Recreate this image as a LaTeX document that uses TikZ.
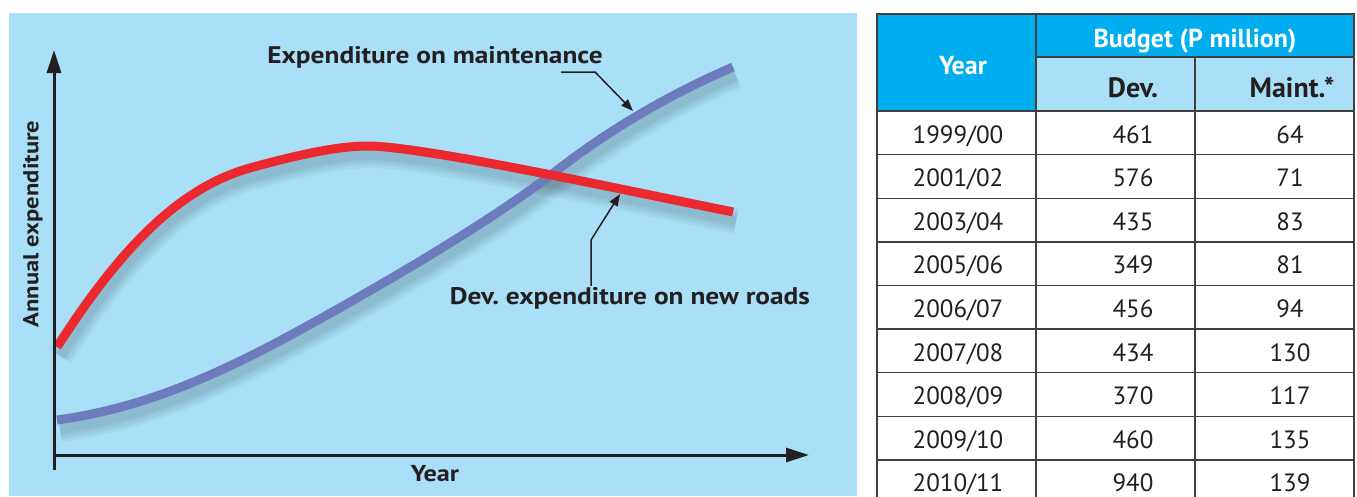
\documentclass[tikz,border=0pt]{standalone}
\usepackage{fontspec}
\setmainfont{PT Sans}
\newfontfamily\chartfont[FakeStretch=1.14]{PT Sans}
\usetikzlibrary{arrows.meta}
\definecolor{panel}{RGB}{169,224,248}
\definecolor{headc}{RGB}{0,174,239}
\definecolor{redc}{RGB}{237,41,47}
\definecolor{bluec}{RGB}{108,124,188}
\definecolor{inkc}{RGB}{35,31,32}
\definecolor{gridc}{RGB}{64,64,64}

\begin{document}
\begin{tikzpicture}[x=1pt, y=-1pt,
    lab/.style={font=\chartfont\bfseries\fontsize{24}{26}\selectfont, text=inkc, inner sep=1pt},
    cell/.style={font=\fontsize{25}{28}\selectfont, text=inkc, anchor=base},
    head/.style={font=\bfseries\fontsize{26}{28}\selectfont, text=white, anchor=base},
    sub/.style={font=\bfseries\fontsize{28}{30}\selectfont, text=inkc, anchor=base},
    ax/.style={line width=3pt, draw=inkc, -{Triangle[length=23pt,width=14pt]}},
    ann/.style={line width=1.5pt, draw=inkc, -{Triangle[length=12pt,width=9pt]}},
    curve/.style={line width=9pt},
    shade/.style={line width=#1, draw=black, opacity=0.045},
    grid/.style={draw=gridc, line width=1.4pt}]
    \useasboundingbox (0,0) rectangle (1357,496);
    \clip (0,0) rectangle (1357,496);
    \fill[white] (0,0) rectangle (1357,496);

    % chart panel
    \fill[panel] (9,13) rectangle (857,496);

    % curve shadows
    \begin{scope}[shift={(3,9)}]
        \foreach \w in {26,20,14,9} {
            \draw[shade=\w pt] (57,420) .. controls (130,410) and (200,385) .. (300,330) .. controls (400,275) and (500,215) .. (560,168) .. controls (620,122) and (680,90) .. (733,67);
            \draw[shade=\w pt] (57,347) .. controls (110,265) and (170,190) .. (250,168) .. controls (300,154) and (340,146) .. (367,146) .. controls (420,146) and (600,185) .. (733,212);
        }
    \end{scope}

    % curves
    \draw[curve, bluec] (57,420) .. controls (130,410) and (200,385) .. (300,330) .. controls (400,275) and (500,215) .. (560,168) .. controls (620,122) and (680,90) .. (733,67);
    \draw[curve, redc] (57,347) .. controls (110,265) and (170,190) .. (250,168) .. controls (300,154) and (340,146) .. (367,146) .. controls (420,146) and (600,185) .. (733,212);

    % axes
    \coordinate (o) at (54,455);
    \coordinate (ybot) at (54,470);
    \coordinate (ytop) at (54,50);
    \coordinate (xend) at (809,455);
    \draw[ax] (ybot) -- (ytop);
    \draw[ax] (o) -- (xend);

    \node[lab, font=\chartfont\bfseries\fontsize{23}{26}\selectfont] (xlab) at (435,474) {Year};
    \node[lab, font=\chartfont\bfseries\fontsize{21.5}{24}\selectfont, rotate=90] (ylab) at (33,224) {Annual expenditure};

    % labels and pointers
    \node[lab] (mlab) at (435,57) {Expenditure on maintenance};
    \node[lab] (dlab) at (630,298) {Dev.\ expenditure on new roads};
    \coordinate (mbend) at (595,72);
    \coordinate (mtip) at (633,111);
    \coordinate (rbend) at (591,240);
    \coordinate (rtip) at (620,194);
    \draw[ann] ([xshift=-34pt]mbend) -- (mbend) -- (mtip);
    \draw[ann] (dlab.north -| rbend) -- (rbend) -- (rtip);

    % table head
    \fill[headc] (877,14) rectangle (1354,111);
    \fill[panel] (1036,57) rectangle (1354,111);
    \node[head] (hyear) at (963,74) {Year};
    \node[head] (hbud) at (1195,47) {Budget (P million)};
    \node[sub] (hdev) at (1133,97) {Dev.};
    \node[sub] (hmnt) at (1292,97) {Maint.*};

    % table body
    \foreach \ya/\yb/\dv/\mt [count=\i] in {1999/00/461/64, 2001/02/576/71, 2003/04/435/83, 2005/06/349/81, 2006/07/456/94, 2007/08/434/130, 2008/09/370/117, 2009/10/460/135, 2010/11/940/139} {
        \node[cell] (yr\i) at (958,{111+43.6*\i-11.6}) {\ya/\yb};
        \node[cell] (dv\i) at (1133,{111+43.6*\i-11.6}) {\dv};
        \node[cell] (mt\i) at (1290,{111+43.6*\i-11.6}) {\mt};
        \draw[grid] (877,{111+43.6*\i}) -- (1354,{111+43.6*\i});
    }

    % table rules
    \draw[grid] (877,14) rectangle (1354,520);
    \draw[grid] (1036,57) -- (1354,57);
    \draw[grid] (877,111) -- (1354,111);
    \draw[grid] (1036,14) -- (1036,520);
    \draw[grid] (1195,57) -- (1195,520);
\end{tikzpicture}
\end{document}
